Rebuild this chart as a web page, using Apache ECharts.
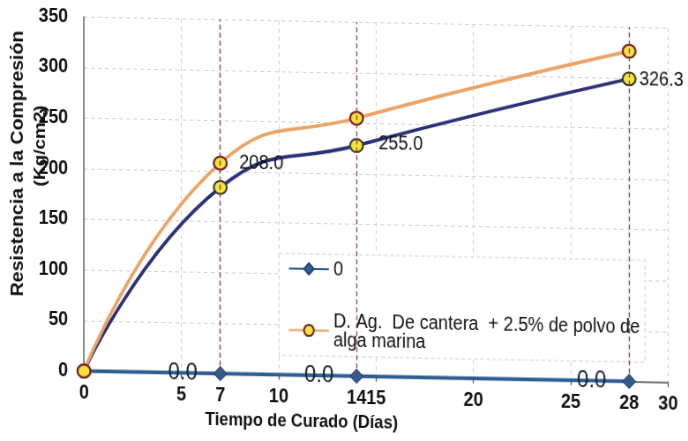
<!DOCTYPE html>
<html>
<head>
<meta charset="utf-8">
<script src="https://cdn.jsdelivr.net/npm/echarts@6/dist/echarts.min.js"></script>
<style>
  html, body { margin: 0; padding: 0; background: #fff; overflow: hidden; width: 688px; height: 441px; }
  /* the printed sheet sits slightly tilted and narrowed */
  #chart { width: 780px; height: 441px; transform-origin: 0 0; transform: skewY(1.09deg) scaleX(0.882); }
</style>
</head>
<body>
<div id="chart"></div>
<script>
// Curing ages (days) at which the specimens were broken
const dias = [0, 7, 14, 28];
// Compressive strength, kg/cm2
const patron = [0, 184, 228, 299];
const conAlga = [0, 208.0, 255.0, 326.3];
const serieCero = [0, 0, 0, 0];
// X axis: labelled values and tick marks
const xEtiquetas = [0, 5, 7, 10, 14, 15, 20, 25, 28, 30];
const xMarcas = [0, 5, 10, 15, 20, 25, 30];

const nombreCero = '0';
const nombreAlga = 'D. Ag.  De cantera  + 2.5% de polvo de\nalga marina';
const nombrePatron = 'Patrón';

const fuente = '"Liberation Sans", Arial, sans-serif';
const amarillo = '#f3e43c';

// where each strength label sits relative to its point
const desplazAlga = [[0, 0], [8, 0], [11.5, 25], [-2, 28]];

const chart = echarts.init(document.getElementById('chart'), null, { renderer: 'canvas' });

const option = {
  animation: false,
  backgroundColor: '#fff',
  grid: { left: 95.2, right: 22.6, top: 15.3, bottom: 71.6, containLabel: false },
  xAxis: {
    type: 'value', min: 0, max: 30, interval: 5,
    axisLine: { show: true, onZero: false, lineStyle: { color: '#555', width: 1.5 } },
    axisTick: { show: true, length: 5, customValues: xMarcas, lineStyle: { color: '#555', width: 1.2 } },
    axisLabel: {
      customValues: xEtiquetas, margin: 12,
      fontFamily: fuente, fontSize: 20, fontWeight: 'bold', color: '#111'
    },
    splitLine: { show: true, lineStyle: { color: '#cfcfcf', type: [4, 4], width: 1 } }
  },
  yAxis: {
    type: 'value', min: 0, max: 350, interval: 50,
    axisLine: { show: true, lineStyle: { color: '#6a6a6a', width: 1.5 } },
    axisTick: { show: false },
    axisLabel: { margin: 18, fontFamily: fuente, fontSize: 20, fontWeight: 'bold', color: '#111' },
    splitLine: { show: true, lineStyle: { color: '#cfcfcf', type: [4, 4], width: 1 } }
  },
  legend: {
    z: 6,
    orient: 'vertical', left: 317.5, top: 248,
    padding: [5, 10, 5, 9],
    itemWidth: 45.4, itemHeight: 14, itemGap: 23,
    backgroundColor: 'transparent', borderWidth: 0,
    textStyle: { fontFamily: fuente, fontSize: 20, lineHeight: 19, color: '#111' },
    data: [
      { name: nombreCero },
      { name: nombreAlga, textStyle: { padding: [19, 0, 0, 0] } }
    ]
  },
  graphic: [
    {
      // legend frame, opaque so grid and drop lines stay behind it
      type: 'rect', z: 5,
      shape: { x: 316.3, y: 248, width: 415, height: 102 },
      style: { fill: '#fff', stroke: '#d0d0d0', lineWidth: 1, lineDash: [4, 3] }
    },
    {
      type: 'text', x: 20.4, y: 163.2, rotation: Math.PI / 2,
      style: { text: 'Resistencia a la Compresión', font: 'bold 19.5px ' + fuente, fill: '#111', align: 'center', verticalAlign: 'middle' }
    },
    {
      type: 'text', x: 45.4, y: 145, rotation: Math.PI / 2,
      style: { text: '(Kg/cm2)', font: 'bold 19px ' + fuente, fill: '#111', align: 'center', verticalAlign: 'middle' }
    },
    {
      type: 'text', x: 341.8, y: 416.3,
      style: { text: 'Tiempo de Curado (Días)', font: 'bold 18.5px ' + fuente, fill: '#111', align: 'center', verticalAlign: 'middle' }
    }
  ],
  series: [
    {
      name: nombreCero, type: 'line',
      data: dias.map((d, i) => ({
        value: [d, serieCero[i]],
        symbol: i === 0 ? 'none' : 'diamond',
        label: { show: i !== 0 }
      })),
      symbol: 'diamond', symbolSize: [14.7, 14],
      lineStyle: { color: '#2f5e90', width: 4 },
      itemStyle: { color: '#2f5e90', borderColor: '#24466e', borderWidth: 1 },
      label: {
        position: 'left', distance: 18, offset: [0, 0],
        formatter: p => p.value[1].toFixed(1),
        fontFamily: fuente, fontSize: 24, color: '#1a2232'
      }
    },
    {
      name: nombrePatron, type: 'line', smooth: 0.5,
      data: dias.map((d, i) => [d, patron[i]]),
      symbol: 'circle', symbolSize: [14.7, 13],
      lineStyle: { color: '#2b3177', width: 3.5 },
      itemStyle: { color: amarillo, borderColor: '#3b3a26', borderWidth: 2 }
    },
    {
      name: nombreAlga, type: 'line', smooth: 0.5,
      data: dias.map((d, i) => ({
        value: [d, conAlga[i]],
        label: i === 0 ? { show: false } : { offset: desplazAlga[i] }
      })),
      symbol: 'circle', symbolSize: [14.7, 13],
      lineStyle: { color: '#e9a466', width: 3.5 },
      itemStyle: { color: amarillo, borderColor: '#7c2222', borderWidth: 2.2 },
      label: {
        show: true, position: 'right', distance: 5,
        formatter: p => p.value[1].toFixed(1),
        fontFamily: fuente, fontSize: 20, color: '#111'
      },
      markLine: {
        silent: true, symbol: ['none', 'none'], label: { show: false },
        lineStyle: { color: '#8c3b3b', type: [5, 3], width: 1.3 },
        data: dias.slice(1).map(d => ({ xAxis: d }))
      }
    }
  ]
};

chart.setOption(option);
</script>
</body>
</html>
